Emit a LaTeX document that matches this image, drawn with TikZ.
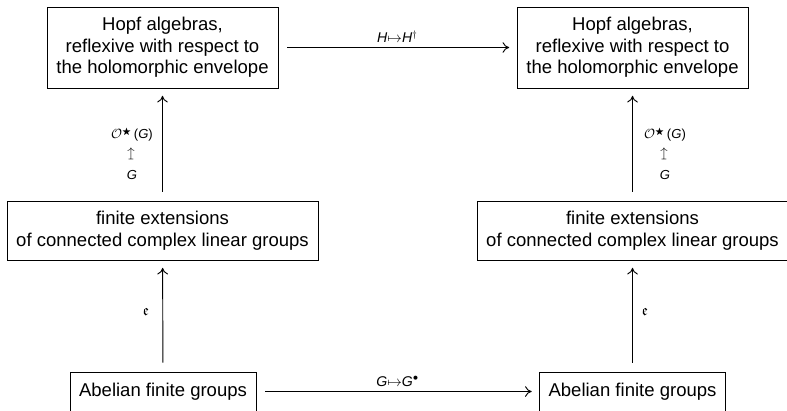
\documentclass[tikz,border=0pt]{standalone}
\usepackage{fontspec}
\usepackage{amssymb}
\usepackage{graphicx}
\usetikzlibrary{arrows.meta}
\setmainfont{Liberation Sans}
\begin{document}
\begin{tikzpicture}[x=0.75pt,y=-0.75pt,
  catbox/.style={draw, line width=0.7pt, align=center, inner sep=0pt,
    font=\fontsize{13.9}{16.1}\selectfont},
  topbox/.style={catbox, minimum width=173.25pt, minimum height=60.75pt},
  midbox/.style={catbox, minimum width=233.25pt, minimum height=44.25pt},
  lowbox/.style={catbox, minimum width=139.5pt, minimum height=29.25pt},
  functor/.style={-{Computer Modern Rightarrow[length=5pt,width=8pt]},
    line width=0.7pt, shorten <=6.75pt, shorten >=5.5pt},
  lbl/.style={font=\fontsize{9.8}{11}\selectfont, inner sep=1pt, align=center},
  hlbl/.style={lbl, font=\fontsize{10.6}{12}\selectfont, midway, above=2.5pt}
]
\useasboundingbox (0,0) rectangle (787,410);

% objects
\node[topbox] (hl) at (162.5,47.5) {Hopf algebras,\\reflexive with respect to\\the holomorphic envelope};
\node[topbox] (hr) at (632.5,47.5) {Hopf algebras,\\reflexive with respect to\\the holomorphic envelope};
\node[midbox] (gl) at (162.5,230.5) {finite extensions\\of connected complex linear groups};
\node[midbox] (gr) at (632.5,230.5) {finite extensions\\of connected complex linear groups};
\node[lowbox] (al) at (163,391.5) {Abelian finite groups};
\node[lowbox] (ar) at (632.5,391.5) {Abelian finite groups};

% functors
\draw[functor] (hl) -- (hr) node[hlbl] (dual) {\itshape H$\mapsto$H$^\dagger$};
\draw[functor] (al) -- (ar) node[hlbl] (pont) {\itshape G$\mapsto$G$^\bullet$};
\draw[functor] (al) -- (gl);
\draw[functor] (ar) -- (gr);
\draw[functor] (gl) -- (hl);
\draw[functor] (gr) -- (hr);

% labels on the vertical arrows
\node[lbl, font=\fontsize{11.5}{12}\selectfont] (el) at (146,312) {$\mathfrak{e}$};
\node[lbl, font=\fontsize{11.5}{12}\selectfont] (er) at (645,312) {$\mathfrak{e}$};
\node[lbl] (ol) at (132,153.5) {$\mathcal{O}^{\bigstar}$\,({\itshape G})\\[3pt]\rotatebox{90}{$\mapsto$}\\[3pt]{\itshape G}};
\node[lbl] (or) at (665,153.5) {$\mathcal{O}^{\bigstar}$\,({\itshape G})\\[3pt]\rotatebox{90}{$\mapsto$}\\[3pt]{\itshape G}};
\end{tikzpicture}
\end{document}
